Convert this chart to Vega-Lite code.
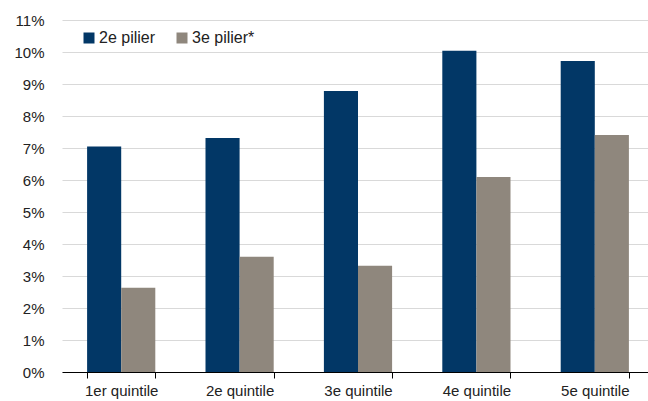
{
  "$schema": "https://vega.github.io/schema/vega-lite/v6.json",
  "autosize": {"type": "none"},
  "width": 586,
  "height": 352,
  "padding": {"left": 62, "top": 20, "right": 0, "bottom": 29},
  "background": "white",
  "config": {
    "view": {"stroke": null},
    "font": "Liberation Sans",
    "axis": {"labelFont": "Liberation Sans", "labelColor": "#222222", "labelFontSize": 15}
  },
  "data": {
    "values": [
      {"quintile": "1er quintile", "serie": "2e pilier", "value": 0.0705},
      {"quintile": "1er quintile", "serie": "3e pilier*", "value": 0.0263},
      {"quintile": "2e quintile", "serie": "2e pilier", "value": 0.0731},
      {"quintile": "2e quintile", "serie": "3e pilier*", "value": 0.0360},
      {"quintile": "3e quintile", "serie": "2e pilier", "value": 0.0878},
      {"quintile": "3e quintile", "serie": "3e pilier*", "value": 0.0332},
      {"quintile": "4e quintile", "serie": "2e pilier", "value": 0.1004},
      {"quintile": "4e quintile", "serie": "3e pilier*", "value": 0.0609},
      {"quintile": "5e quintile", "serie": "2e pilier", "value": 0.0972},
      {"quintile": "5e quintile", "serie": "3e pilier*", "value": 0.0741}
    ]
  },
  "mark": {"type": "bar"},
  "encoding": {
    "x": {
      "field": "quintile",
      "type": "nominal",
      "sort": null,
      "scale": {"range": [0, 592], "paddingInner": 0.424, "paddingOuter": 0.212},
      "axis": {
        "title": null,
        "labelAngle": 0,
        "domainColor": "#000000",
        "tickColor": "#000000",
        "tickSize": 6,
        "tickBand": "extent",
        "labelPadding": 5,
        "grid": false
      }
    },
    "xOffset": {"field": "serie", "type": "nominal", "sort": null, "scale": {"paddingInner": 0, "paddingOuter": 0}},
    "y": {
      "field": "value",
      "type": "quantitative",
      "scale": {"domain": [0, 0.11], "nice": false},
      "axis": {
        "title": null,
        "format": ".0%",
        "values": [0, 0.01, 0.02, 0.03, 0.04, 0.05, 0.06, 0.07, 0.08, 0.09, 0.1, 0.11],
        "domain": false,
        "ticks": false,
        "labelPadding": 18,
        "gridColor": "#d9d9d9",
        "gridWidth": 1
      }
    },
    "color": {
      "field": "serie",
      "type": "nominal",
      "sort": null,
      "scale": {"domain": ["2e pilier", "3e pilier*"], "range": ["#023766", "#8f877d"]},
      "legend": {
        "title": null,
        "orient": "none",
        "legendX": 19,
        "legendY": 10,
        "direction": "horizontal",
        "symbolType": "square",
        "symbolSize": 121,
        "symbolStrokeWidth": 0,
        "labelFontSize": 16,
        "labelFont": "Liberation Sans",
        "labelColor": "#222222",
        "labelOffset": 2,
        "columnPadding": 18,
        "padding": 0
      }
    }
  }
}
